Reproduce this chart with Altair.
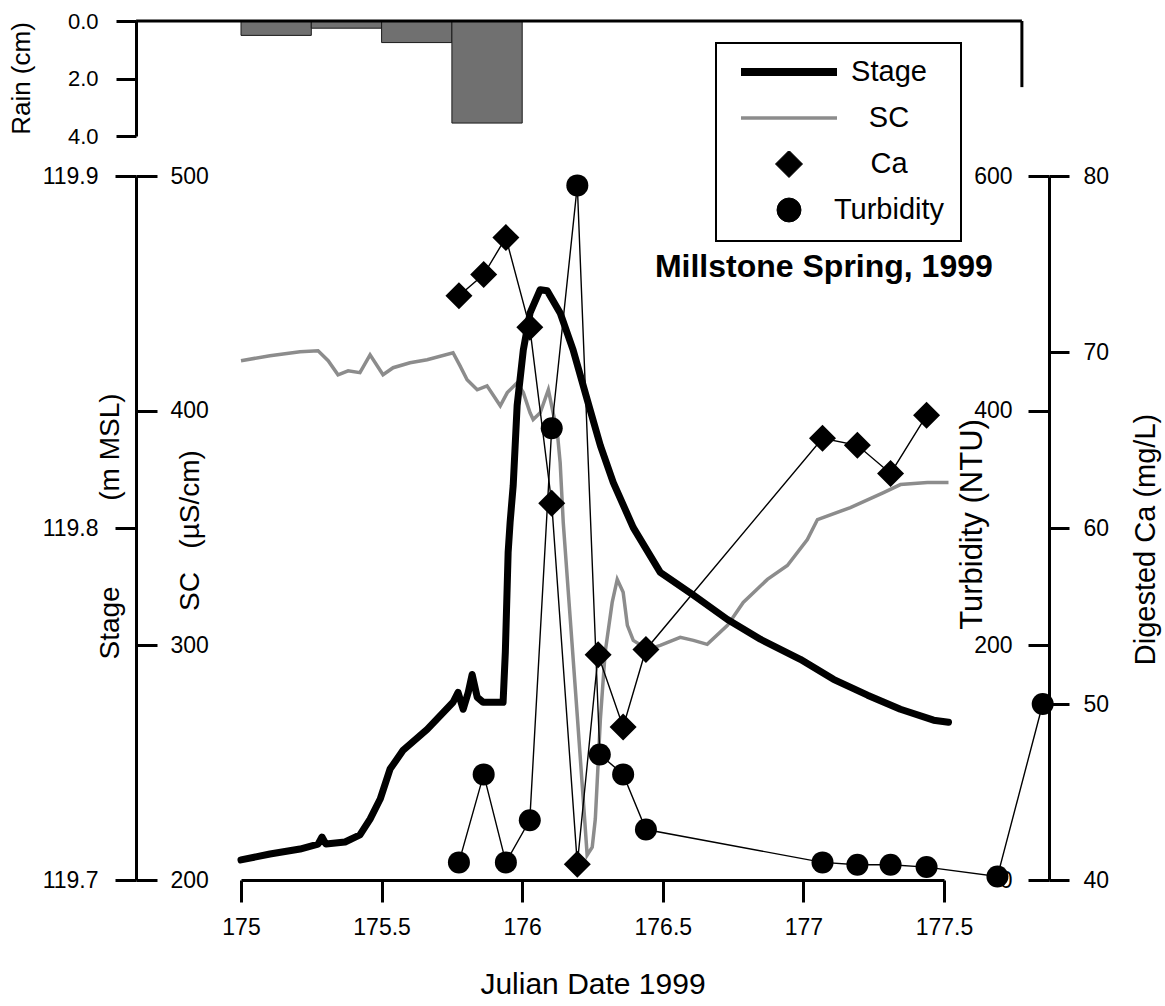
import altair as alt
import pandas as pd

NB = "\u00a0"
FONT = "Liberation Sans"

# ---------------- data ----------------
rain_start = [175.0, 175.25, 175.5, 175.75]
rain_end = [175.25, 175.5, 175.75, 176.0]
rain_cm = [0.5, 0.25, 0.75, 3.55]

stage_date = [175.000, 175.103, 175.210, 175.274, 175.288, 175.302, 175.370, 175.423,
              175.459, 175.495, 175.530, 175.577, 175.662, 175.754, 175.772, 175.790,
              175.808, 175.822, 175.840, 175.861, 175.932, 175.940, 175.950, 175.957,
              175.968, 175.982, 176.004, 176.028, 176.064, 176.089, 176.135, 176.181,
              176.231, 176.278, 176.324, 176.395, 176.491, 176.609, 176.730, 176.847,
              176.989, 177.107, 177.228, 177.345, 177.463, 177.516]
stage_m = [119.7057, 119.7074, 119.7088, 119.7102, 119.7122, 119.7102, 119.7108, 119.7128,
           119.7173, 119.7230, 119.7315, 119.7369, 119.7428, 119.7505, 119.7533, 119.7485,
           119.7533, 119.7584, 119.7519, 119.7505, 119.7505, 119.7647, 119.7931, 119.8016,
           119.8121, 119.8348, 119.8506, 119.8611, 119.8677, 119.8674, 119.8611, 119.8506,
           119.8365, 119.8234, 119.8129, 119.8001, 119.7874, 119.7809, 119.7740, 119.7684,
           119.7627, 119.7570, 119.7525, 119.7485, 119.7454, 119.7448]

sc_date = [175.000, 175.103, 175.210, 175.274, 175.310, 175.345, 175.381, 175.423,
           175.459, 175.505, 175.541, 175.601, 175.662, 175.754, 175.779, 175.804,
           175.840, 175.875, 175.922, 175.947, 175.982, 176.004, 176.028, 176.039,
           176.064, 176.093, 176.110, 176.125, 176.135, 176.146, 176.171, 176.196,
           176.217, 176.231, 176.249, 176.260, 176.278, 176.295, 176.320, 176.338,
           176.359, 176.374, 176.395, 176.445, 176.491, 176.562, 176.609, 176.658,
           176.730, 176.786, 176.872, 176.943, 177.014, 177.050, 177.167, 177.285,
           177.345, 177.441, 177.516]
sc_val = [421.3, 423.4, 425.1, 425.5, 421.3, 415.3, 417.0, 416.2,
          423.8, 415.3, 418.3, 420.4, 421.7, 424.7, 419.1, 413.2,
          408.9, 410.6, 402.1, 407.7, 411.9, 407.7, 399.1, 396.2,
          399.1, 408.9, 399.1, 390.6, 377.9, 352.3, 311.1, 269.8,
          234.5, 210.6, 214.0, 226.0, 268.5, 297.0, 318.3, 328.1,
          322.6, 308.5, 302.1, 298.3, 300.0, 303.4, 302.1, 300.4,
          308.5, 318.3, 328.1, 334.0, 345.1, 353.6, 358.7, 365.1,
          368.5, 369.4, 369.4]

ca_date = [175.775, 175.863, 175.942, 176.027, 176.105, 176.196, 176.270,
           176.359, 176.440, 177.068, 177.192, 177.310, 177.438]
ca_val = [73.2, 74.4, 76.5, 71.4, 61.4, 40.9, 52.8, 48.7, 53.1, 65.1, 64.7, 63.1, 66.4]

turb_date = [175.775, 175.863, 175.942, 176.027, 176.105, 176.196, 176.276, 176.359,
             176.440, 177.068, 177.192, 177.310, 177.438, 177.690, 177.851]
turb_val = [15, 90, 15, 51, 385, 592, 107, 90, 43, 15, 13, 13, 11, 3, 150]

series_names = ["Stage", "SC", "Ca", "Turbidity"]

x_ticks = [175, 175.5, 176, 176.5, 177, 177.5]
stage_ticks = [119.7, 119.8, 119.9]
sc_ticks = [200, 300, 400, 500]
turb_ticks = [0, 200, 400, 600]
ca_ticks = [40, 50, 60, 70, 80]
rain_ticks = [0, 2, 4]

# rain panel frame (top baseline and right edge), in data units
rain_frame_x = [174.627]
rain_frame_x2 = [177.777]
rain_side_top = [0.0]
rain_side_bottom = [2.3]

# ---------------- layout ----------------
W, H = 703, 859
MAIN_RANGE = [859, 155]
RAIN_RANGE = [0, 115]

XS = alt.Scale(domain=[175, 177.5], nice=False, zero=False)
RAIN_Y = alt.Scale(domain=[0, 4], range=RAIN_RANGE, nice=False, zero=True)
STAGE_Y = alt.Scale(domain=[119.7, 119.9], range=MAIN_RANGE, nice=False, zero=False)
SC_Y = alt.Scale(domain=[200, 500], range=MAIN_RANGE, nice=False, zero=False)
TURB_Y = alt.Scale(domain=[0, 600], range=MAIN_RANGE, nice=False, zero=False)
CA_Y = alt.Scale(domain=[40, 80], range=MAIN_RANGE, nice=False, zero=False)

x_axis = alt.Axis(values=x_ticks, format="~f", title="Julian Date 1999", tickSize=22,
                  labelFontSize=23, labelPadding=14, titleFontSize=30, titleY=104,
                  titleBaseline="middle", labelFlush=False)


def xq(field):
    return alt.X(field, type="quantitative", scale=XS, axis=x_axis)


# ---------------- rain panel ----------------
rain_df = pd.DataFrame({"start": rain_start, "end": rain_end, "rain": rain_cm})
rain_axis = alt.Axis(orient="left", offset=105, values=rain_ticks, format=".1f",
                     tickSize=20, labelFontSize=22, labelPadding=18,
                     title="Rain (cm)", titleFontSize=26, titleAngle=270,
                     titleX=-115, titleY=57, titleAlign="center", titleBaseline="middle")
rain_bars = alt.Chart(rain_df).mark_rect(fill="#707070", stroke="#1a1a1a", strokeWidth=1).encode(
    x=xq("start"), x2="end",
    y=alt.Y("rain:Q", scale=RAIN_Y, axis=rain_axis),
    y2=alt.Y2Datum(0.0),
)
frame_df = pd.DataFrame({"x": rain_frame_x, "x2": rain_frame_x2, "y": [0.0]})
rain_top = alt.Chart(frame_df).mark_rule(color="black", strokeWidth=3).encode(
    x=xq("x"), x2="x2", y=alt.Y("y:Q", scale=RAIN_Y, axis=rain_axis)
)
side_df = pd.DataFrame({"x": rain_frame_x2, "y": rain_side_top, "y2": rain_side_bottom})
rain_side = alt.Chart(side_df).mark_rule(color="black", strokeWidth=3).encode(
    x=xq("x"), y=alt.Y("y:Q", scale=RAIN_Y, axis=rain_axis), y2="y2"
)
rain_block = alt.layer(rain_bars, rain_top, rain_side)

# ---------------- stage ----------------
stage_df = pd.DataFrame({"date": stage_date, "stage": stage_m})
stage_axis = alt.Axis(orient="left", offset=105, values=stage_ticks, format=".1f",
                      tickSize=21, labelFontSize=23, labelPadding=17,
                      title="Stage" + NB * 11 + "(m MSL)", titleFontSize=28, titleAngle=270,
                      titleX=-26, titleY=505, titleAlign="center", titleBaseline="middle")
stage_line = alt.Chart(stage_df).mark_line(color="black", strokeWidth=7, strokeJoin="round",
                                           strokeCap="round").encode(
    x=xq("date"),
    y=alt.Y("stage:Q", scale=STAGE_Y, axis=stage_axis),
)

# ---------------- SC ----------------
sc_df = pd.DataFrame({"date": sc_date, "sc": sc_val})
sc_axis = alt.Axis(orient="left", offset=84, domain=False, values=sc_ticks, tickSize=21,
                   labelAlign="left", labelPadding=-34, labelFontSize=23,
                   title="SC" + NB * 3 + "(µS/cm)", titleFontSize=28, titleAngle=270,
                   titleX=33, titleY=509, titleAlign="center", titleBaseline="middle")
sc_line = alt.Chart(sc_df).mark_line(color="#8c8c8c", strokeWidth=3.5).encode(
    x=xq("date"),
    y=alt.Y("sc:Q", scale=SC_Y, axis=sc_axis),
)

# ---------------- turbidity ----------------
turb_df = pd.DataFrame({"date": turb_date, "ntu": turb_val})
turb_axis = alt.Axis(orient="right", offset=84, domain=False, values=turb_ticks, tickSize=21,
                     labelAlign="right", labelPadding=-37, labelFontSize=23,
                     title="Turbidity (NTU)", titleFontSize=31, titleAngle=270,
                     titleX=-56, titleY=503, titleAlign="center", titleBaseline="middle")
turb_line = alt.Chart(turb_df).mark_line(color="black", strokeWidth=1.4).encode(
    x=xq("date"), y=alt.Y("ntu:Q", scale=TURB_Y, axis=turb_axis)
)
turb_pts = alt.Chart(turb_df).mark_point(shape="circle", filled=True, size=484, color="black",
                                         opacity=1).encode(
    x=xq("date"), y=alt.Y("ntu:Q", scale=TURB_Y, axis=turb_axis)
)
turb_block = alt.layer(turb_line, turb_pts)

# ---------------- Ca ----------------
ca_df = pd.DataFrame({"date": ca_date, "ca": ca_val})
ca_axis = alt.Axis(orient="right", offset=105, values=ca_ticks, tickSize=20, labelPadding=14,
                   labelFontSize=23, title="Digested Ca (mg/L)", titleFontSize=29,
                   titleAngle=270, titleX=96, titleY=518, titleAlign="center",
                   titleBaseline="middle")
ca_line = alt.Chart(ca_df).mark_line(color="black", strokeWidth=1.4).encode(
    x=xq("date"), y=alt.Y("ca:Q", scale=CA_Y, axis=ca_axis)
)
ca_pts = alt.Chart(ca_df).mark_point(shape="diamond", filled=True, size=729, color="black",
                                     opacity=1).encode(
    x=xq("date"), y=alt.Y("ca:Q", scale=CA_Y, axis=ca_axis)
)
label_df = pd.DataFrame({"t": ["Millstone Spring, 1999"]})
site_label = alt.Chart(label_df).mark_text(align="left", baseline="middle", fontSize=32,
                                           fontWeight="bold", font=FONT, color="black").encode(
    x=alt.XDatum(176.472, type="quantitative", scale=XS, axis=x_axis),
    y=alt.YDatum(74.83, type="quantitative", scale=CA_Y, axis=ca_axis),
    text="t:N",
)
ca_block = alt.layer(ca_line, ca_pts, site_label)

# ---------------- legend ----------------
leg = alt.Legend(title=None, orient="none", legendX=475, legendY=22, direction="vertical",
                 columns=1, labelFontSize=29, labelFont=FONT, labelColor="black",
                 labelAlign="center", labelBaseline="middle", labelOffset=48, padding=16,
                 rowPadding=17, clipHeight=26, symbolOffset=5, strokeColor="black",
                 fillColor="white", cornerRadius=0, labelLimit=400, symbolOpacity=1)
leg_df = pd.DataFrame({"series": series_names})
colors = ["black", "#8c8c8c", "black", "black"]
carrier = alt.Chart(leg_df).mark_point(opacity=0, filled=True).encode(
    fill=alt.Fill("series:N", scale=alt.Scale(domain=series_names, range=colors), legend=leg),
    stroke=alt.Stroke("series:N", scale=alt.Scale(domain=series_names, range=colors), legend=leg),
    shape=alt.Shape("series:N", scale=alt.Scale(domain=series_names,
                                                range=["stroke", "stroke", "diamond", "circle"]),
                    legend=leg),
    size=alt.Size("series:N", scale=alt.Scale(type="ordinal", domain=series_names,
                                              range=[9216, 9216, 729, 576]), legend=leg),
    strokeWidth=alt.StrokeWidth("series:N", scale=alt.Scale(type="ordinal", domain=series_names,
                                                            range=[8, 3.5, 1, 1]), legend=leg),
)

chart = (
    alt.layer(rain_block, sc_line, stage_line, turb_block, ca_block, carrier)
    .resolve_scale(y="independent")
    .properties(width=W, height=H, autosize=alt.AutoSizeParams(type="none"),
                padding={"left": 241, "top": 21, "right": 221, "bottom": 126},
                background="white")
    .configure(font=FONT)
    .configure_view(stroke=None)
    .configure_legend(strokeWidth=2)
    .configure_axis(grid=False, labelFlush=False, domainColor="black", domainWidth=3,
                    tickColor="black", tickWidth=3, labelColor="black", titleColor="black",
                    titleFontWeight="normal", labelFont=FONT, titleFont=FONT)
)

chart.save("out.html", embed_options={"renderer": "svg", "actions": False})
